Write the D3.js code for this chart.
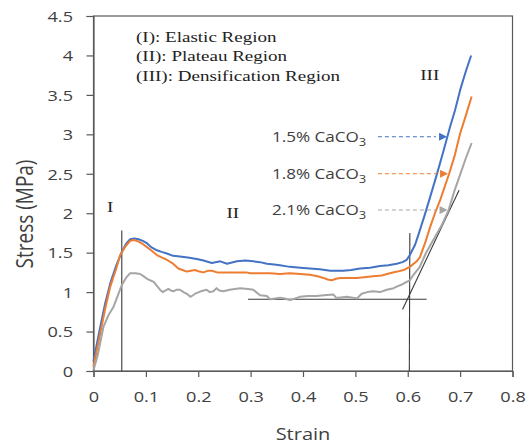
<!DOCTYPE html>
<html><head><meta charset="utf-8">
<script src="https://cdn.jsdelivr.net/npm/d3@7"></script>
<style>body{margin:0;background:#fff}svg{display:block}</style>
</head><body>
<svg id="c" width="532" height="443"></svg>
<script>
// ---- data ----
const xTicks = [0, 0.1, 0.2, 0.3, 0.4, 0.5, 0.6, 0.7, 0.8];
const yTicks = [0, 0.5, 1, 1.5, 2, 2.5, 3, 3.5, 4, 4.5];
const xTickLabels = ["0", "0.1", "0.2", "0.3", "0.4", "0.5", "0.6", "0.7", "0.8"];
const yTickLabels = ["0", "0.5", "1", "1.5", "2", "2.5", "3", "3.5", "4", "4.5"];
const seriesNames = ["1.5% CaCO", "1.8% CaCO", "2.1% CaCO"];
const seriesColors = ["#4472C4", "#ED7D31", "#A5A5A5"];

const strain15 = [0,0.006,0.013,0.022,0.032,0.043,0.054,0.062,0.07,0.078,0.086,0.094,0.102,0.11,0.121,0.13,0.14,0.152,0.165,0.18,0.197,0.21,0.226,0.242,0.255,0.274,0.29,0.305,0.318,0.331,0.345,0.356,0.375,0.395,0.413,0.432,0.452,0.465,0.477,0.492,0.509,0.528,0.547,0.563,0.579,0.59,0.598,0.604,0.614,0.62,0.632,0.643,0.655,0.667,0.681,0.69,0.70,0.71,0.721];
const stress15 = [0.12,0.33,0.56,0.85,1.11,1.33,1.51,1.61,1.67,1.68,1.67,1.65,1.62,1.57,1.53,1.51,1.49,1.46,1.45,1.44,1.42,1.40,1.37,1.39,1.36,1.39,1.40,1.39,1.38,1.36,1.35,1.34,1.32,1.31,1.30,1.29,1.27,1.27,1.27,1.28,1.30,1.31,1.33,1.34,1.36,1.38,1.41,1.47,1.60,1.72,1.97,2.21,2.48,2.76,3.10,3.30,3.56,3.78,4.00];

const strain18 = [0,0.006,0.013,0.022,0.032,0.043,0.051,0.06,0.07,0.078,0.086,0.094,0.102,0.11,0.121,0.13,0.14,0.152,0.162,0.17,0.178,0.186,0.194,0.202,0.21,0.218,0.226,0.236,0.248,0.27,0.292,0.299,0.337,0.356,0.375,0.395,0.413,0.428,0.439,0.447,0.455,0.463,0.471,0.503,0.534,0.55,0.566,0.58,0.592,0.604,0.617,0.623,0.633,0.643,0.652,0.662,0.679,0.69,0.70,0.711,0.722];
const stress18 = [0.05,0.25,0.48,0.78,1.07,1.29,1.47,1.57,1.65,1.66,1.64,1.61,1.57,1.53,1.47,1.44,1.41,1.36,1.30,1.28,1.26,1.27,1.28,1.26,1.25,1.27,1.27,1.25,1.25,1.25,1.25,1.24,1.24,1.23,1.24,1.23,1.22,1.20,1.18,1.16,1.15,1.17,1.18,1.18,1.20,1.21,1.24,1.26,1.28,1.32,1.39,1.44,1.62,1.83,2.00,2.17,2.50,2.74,3.01,3.24,3.48];

const strain21 = [0,0.008,0.019,0.028,0.038,0.046,0.054,0.062,0.07,0.08,0.089,0.096,0.102,0.108,0.115,0.121,0.127,0.132,0.137,0.143,0.148,0.153,0.158,0.165,0.172,0.18,0.185,0.19,0.194,0.205,0.216,0.222,0.229,0.235,0.24,0.248,0.26,0.28,0.295,0.305,0.318,0.331,0.337,0.347,0.356,0.365,0.375,0.385,0.394,0.41,0.426,0.44,0.458,0.463,0.468,0.484,0.495,0.503,0.512,0.523,0.534,0.547,0.56,0.573,0.579,0.59,0.598,0.604,0.611,0.623,0.635,0.652,0.665,0.678,0.69,0.70,0.711,0.722];
const stress21 = [0.01,0.2,0.56,0.70,0.81,0.95,1.09,1.18,1.24,1.24,1.23,1.20,1.17,1.15,1.13,1.08,1.03,1.00,1.02,1.04,1.02,1.01,1.03,1.03,1.00,0.97,0.94,0.96,0.98,1.01,1.03,1.00,1.01,1.05,1.02,1.01,1.03,1.05,1.04,1.03,0.96,0.95,0.91,0.92,0.93,0.92,0.90,0.92,0.94,0.95,0.95,0.96,0.97,0.93,0.93,0.94,0.93,0.92,0.98,1.00,1.01,1.00,1.03,1.05,1.07,1.10,1.13,1.15,1.22,1.32,1.50,1.70,1.85,2.04,2.30,2.49,2.70,2.89];

// construction lines [x1,y1,x2,y2] in data units
const guideLines = [
  [0.054, 0, 0.054, 1.78],
  [0.603, 0, 0.604, 1.75],
  [0.295, 0.91, 0.636, 0.91],
  [0.59, 0.78, 0.698, 2.29]
];
// legend arrows: start strain, tip strain, stress level
const arrowStart = [0.543, 0.543, 0.543];
const arrowTip = [0.675, 0.677, 0.676];
const arrowLevel = [2.97, 2.50, 2.04];
const regionNotes = ["(I): Elastic Region", "(II): Plateau Region", "(III):  Densification Region"];
const regionMarks = [["I", 0.032, 2.02], ["II", 0.266, 1.94], ["III", 0.642, 3.69]];

// ---- chart ----
const svg = d3.select("#c");
const L = 93.5, R = 512.5, T = 16, B = 371;
const SX = 1.25; // horizontal stretch of the reference typography
const x = d3.scaleLinear().domain([0, 0.8]).range([L, R]);
const y = d3.scaleLinear().domain([0, 4.5]).range([B, T]);
const sans = "'Open Sans', sans-serif";
const serif = "'Liberation Serif', 'Times New Roman', serif";
const axisCol = "#595959";
const textCol = "#404040";

function stext(px, py, size, family, anchor, sx) {
  return svg.append("text").attr("transform", `translate(${px},${py}) scale(${sx || SX},1)`)
    .attr("text-anchor", anchor || "start").attr("font-family", family).attr("font-size", size);
}

// frame
svg.append("rect").attr("x", L).attr("y", T).attr("width", R - L).attr("height", B - T)
  .attr("fill", "none").attr("stroke", axisCol).attr("stroke-width", 1.2);

// axes
const xAxis = d3.axisBottom(x).tickValues(xTicks).tickSize(6).tickFormat((d, i) => xTickLabels[i]);
const yAxis = d3.axisLeft(y).tickValues(yTicks).tickSize(7).tickFormat((d, i) => yTickLabels[i]);
const gx = svg.append("g").attr("transform", `translate(0,${B})`).call(xAxis);
const gy = svg.append("g").attr("transform", `translate(${L},0)`).call(yAxis);
[gx, gy].forEach(g => {
  g.select(".domain").attr("stroke", axisCol).attr("stroke-width", 1.2);
  g.selectAll(".tick line").attr("stroke", axisCol).attr("stroke-width", 1.2);
  g.selectAll(".tick text").attr("font-family", sans).attr("font-size", 14.5).attr("fill", textCol)
    .attr("transform", `scale(${SX},1)`);
});
gx.selectAll(".tick text").attr("y", 31).attr("dy", 0);
gy.selectAll(".tick text").attr("x", -20.5 / SX).attr("dy", "0.36em");

stext(x(0.4), 440, 16, sans, "middle").attr("fill", textCol).text("Strain");
svg.append("text").attr("transform", `translate(33,${214}) scale(${SX},1) rotate(-90)`).attr("text-anchor", "middle")
  .attr("font-family", sans).attr("font-size", 19).attr("fill", textCol).text("Stress (MPa)");

// guide lines
svg.selectAll("line.guide").data(guideLines).enter().append("line").attr("class", "guide")
  .attr("x1", d => x(d[0])).attr("y1", d => y(d[1])).attr("x2", d => x(d[2])).attr("y2", d => y(d[3]))
  .attr("stroke", "#3a3a3a").attr("stroke-width", 1.1);

// curves
const series = [[strain15, stress15], [strain18, stress18], [strain21, stress21]];
const line = d3.line().x(d => x(d[0])).y(d => y(d[1])).curve(d3.curveLinear);
series.forEach((s, i) => {
  const pts = s[0].map((v, j) => [v, s[1][j]]);
  svg.append("path").datum(pts).attr("d", line).attr("fill", "none")
    .attr("stroke", seriesColors[i]).attr("stroke-width", 2).attr("stroke-linejoin", "round");
});

// arrows
const defs = svg.append("defs");
seriesColors.forEach((c, i) => {
  defs.append("marker").attr("id", "ah" + i).attr("viewBox", "0 0 10 10").attr("refX", 10).attr("refY", 5)
    .attr("markerWidth", 12).attr("markerHeight", 8).attr("markerUnits", "userSpaceOnUse").attr("orient", "auto")
    .append("path").attr("d", "M0,0 L10,5 L0,10 Z").attr("fill", c);
});
arrowLevel.forEach((lv, i) => {
  svg.append("line").attr("x1", x(arrowStart[i])).attr("x2", x(arrowTip[i]) - 11).attr("y1", y(lv)).attr("y2", y(lv))
    .attr("stroke", seriesColors[i]).attr("stroke-width", 1.1).attr("stroke-dasharray", "4,3");
  svg.append("line").attr("x1", x(arrowTip[i]) - 12).attr("x2", x(arrowTip[i])).attr("y1", y(lv)).attr("y2", y(lv))
    .attr("stroke", "none").attr("marker-end", `url(#ah${i})`);
  const t = stext(x(arrowStart[i]) - 106, y(lv) + 5, 14.5, sans, "start", 1.18).attr("fill", textCol);
  t.append("tspan").text(seriesNames[i]);
  t.append("tspan").attr("dy", 4).attr("font-size", 11).text("3");
});

// region notes
regionNotes.forEach((n, i) => {
  stext(136, 42 + i * 19.3, 15, serif, "start", 1.27).attr("fill", "#222").text(n);
});
regionMarks.forEach(m => {
  stext(x(m[1]), y(m[2]), 15, serif, "middle", 1.27).attr("fill", "#222").text(m[0]);
});
</script>
</body></html>
